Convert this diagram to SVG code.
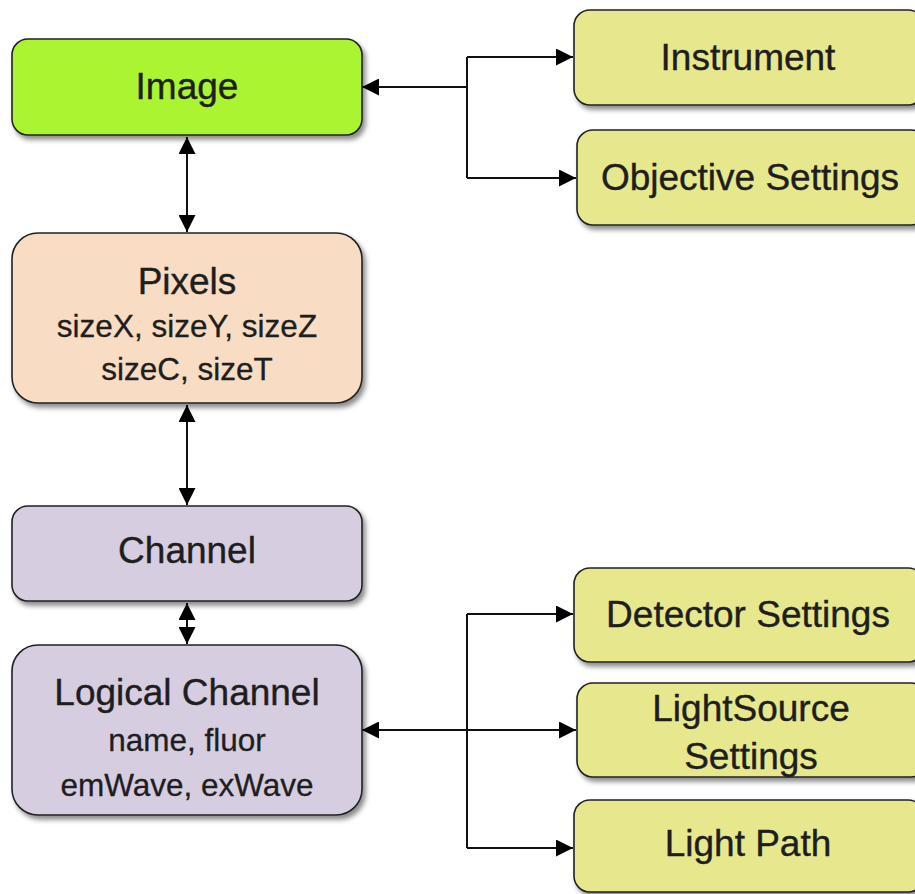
<svg xmlns="http://www.w3.org/2000/svg" width="915" height="894" viewBox="0 0 915 894">
<defs>
<filter id="sh" x="-10%" y="-10%" width="130%" height="140%">
<feDropShadow dx="3" dy="4" stdDeviation="2.5" flood-color="#000" flood-opacity="0.45"/>
</filter>
<marker id="ah" viewBox="0 0 10 10" refX="10" refY="5" markerUnits="userSpaceOnUse" markerWidth="17" markerHeight="17" orient="auto-start-reverse">
<path d="M0,0 L10,5 L0,10 z" fill="#000"/>
</marker>
<style>
.box{stroke:#222;stroke-width:1.6;filter:url(#sh)}
.lime{fill:#abf430}
.peach{fill:#f8dcc3}
.lav{fill:#d6cde1}
.yel{fill:#e7e78e}
.t{font-family:"Liberation Sans",Arial,sans-serif;font-size:37px;fill:#1e1e1e;text-anchor:middle;stroke:#1e1e1e;stroke-width:0.4}
.s{font-family:"Liberation Sans",Arial,sans-serif;font-size:31.5px;fill:#1e1e1e;text-anchor:middle;stroke:#1e1e1e;stroke-width:0.3}
.c{fill:none;stroke:#111;stroke-width:2}
</style>
</defs>
<rect width="915" height="894" fill="#fff"/>
<g id="connectors">
<path class="c" d="M187,137 V232" marker-start="url(#ah)" marker-end="url(#ah)"/>
<path class="c" d="M187,405 V505" marker-start="url(#ah)" marker-end="url(#ah)"/>
<path class="c" d="M187,603 V644" marker-start="url(#ah)" marker-end="url(#ah)"/>
<path class="c" d="M467,87 H362" marker-end="url(#ah)"/>
<path class="c" d="M467,57 V178"/>
<path class="c" d="M467,57 H573" marker-end="url(#ah)"/>
<path class="c" d="M467,178 H576" marker-end="url(#ah)"/>
<path class="c" d="M467,730 H362" marker-end="url(#ah)"/>
<path class="c" d="M467,614 V848"/>
<path class="c" d="M467,614 H573" marker-end="url(#ah)"/>
<path class="c" d="M467,730 H576" marker-end="url(#ah)"/>
<path class="c" d="M467,848 H573" marker-end="url(#ah)"/>
</g>
<g id="image">
<rect class="box lime" x="12" y="39" width="350" height="96" rx="16"/>
<text class="t" x="187" y="99">Image</text>
</g>
<g id="pixels">
<rect class="box peach" x="12" y="233" width="350" height="170" rx="26"/>
<text class="t" x="187" y="294">Pixels</text>
<text class="s" x="187" y="337">sizeX, sizeY, sizeZ</text>
<text class="s" x="187" y="380">sizeC, sizeT</text>
</g>
<g id="channel">
<rect class="box lav" x="12" y="506" width="350" height="95" rx="16"/>
<text class="t" x="187" y="563">Channel</text>
</g>
<g id="logical-channel">
<rect class="box lav" x="12" y="645" width="350" height="170" rx="26"/>
<text class="t" x="187" y="705">Logical Channel</text>
<text class="s" x="187" y="751">name, fluor</text>
<text class="s" x="187" y="796">emWave, exWave</text>
</g>
<g id="instrument">
<rect class="box yel" x="574" y="10" width="350" height="95" rx="16"/>
<text class="t" x="748" y="70">Instrument</text>
</g>
<g id="objective-settings">
<rect class="box yel" x="577" y="130" width="350" height="95" rx="16"/>
<text class="t" x="750" y="190">Objective Settings</text>
</g>
<g id="detector-settings">
<rect class="box yel" x="574" y="568" width="350" height="94" rx="16"/>
<text class="t" x="748" y="627">Detector Settings</text>
</g>
<g id="lightsource-settings">
<rect class="box yel" x="577" y="683" width="350" height="94" rx="16"/>
<text class="t" x="751" y="721">LightSource</text>
<text class="t" x="751" y="769">Settings</text>
</g>
<g id="light-path">
<rect class="box yel" x="574" y="800" width="350" height="92" rx="16"/>
<text class="t" x="748" y="856">Light Path</text>
</g>
</svg>
